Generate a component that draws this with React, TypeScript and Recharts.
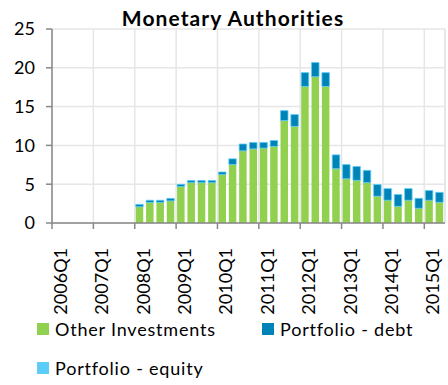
import React from 'react';
import {
  BarChart,
  Bar,
  XAxis,
  YAxis,
  CartesianGrid,
  Legend,
  ReferenceLine,
} from 'recharts';

// Quarters 2006Q1 .. 2015Q2
const quarters: string[] = [];
for (let y = 2006; y <= 2015; y++) {
  for (let q = 1; q <= 4; q++) {
    if (y === 2015 && q > 2) break;
    quarters.push(`${y}Q${q}`);
  }
}

const otherInvestments = [
  0, 0, 0, 0, 0, 0, 0, 0,
  2.1, 2.65, 2.65, 2.85, 4.7, 5.2, 5.2, 5.2,
  6.25, 7.55, 9.3, 9.55, 9.65, 9.87, 13.2, 12.45,
  17.6, 18.85, 17.6, 7.0, 5.7, 5.5, 5.2, 3.45,
  2.93, 2.15, 2.93, 1.9, 2.93, 2.67,
];

const portfolioDebt = [
  0, 0, 0, 0, 0, 0, 0, 0,
  0.3, 0.28, 0.28, 0.32, 0.28, 0.28, 0.28, 0.28,
  0.32, 0.72, 0.88, 0.83, 0.73, 0.76, 1.28, 1.52,
  1.78, 1.83, 1.78, 1.78, 1.83, 1.78, 1.58, 1.5,
  1.5, 1.52, 1.5, 1.28, 1.25, 1.28,
];

const portfolioEquity = [
  0, 0, 0, 0, 0, 0, 0, 0,
  0, 0, 0, 0, 0, 0, 0, 0,
  0, 0, 0, 0, 0, 0, 0, 0,
  0, 0, 0, 0, 0, 0, 0, 0,
  0, 0, 0, 0, 0, 0,
];

const yTicks = [0, 5, 10, 15, 20, 25];
// one labelled tick at the start of every year
const xTicks = [0, 4, 8, 12, 16, 20, 24, 28, 32, 36];

const GREEN = '#92d050';
const BLUE = '#0083b6';
const LIGHT_BLUE = '#5ccdf7';
const FONT = 'Lato, "Open Sans", sans-serif';

const data = quarters.map((q, i) => ({
  x: i + 0.5,
  quarter: q,
  other: otherInvestments[i],
  debt: portfolioDebt[i],
  equity: portfolioEquity[i],
}));

const legendItems = [
  { name: 'Other Investments', color: GREEN },
  { name: 'Portfolio - debt', color: BLUE },
  { name: 'Portfolio - equity', color: LIGHT_BLUE },
];

function QuarterTick(props: any) {
  const { x, y, payload } = props;
  const label = quarters[payload.value] ?? '';
  return (
    <text
      x={0}
      y={0}
      transform={`translate(${x + 15},${y + 17}) rotate(-90)`}
      textAnchor="end"
      fill="#000"
      fontSize={18}
      fontFamily={FONT}
    >
      {label}
    </text>
  );
}

function LegendBox() {
  const item = (it: { name: string; color: string }, left: number, top: number) => (
    <div
      key={it.name}
      style={{ position: 'absolute', left, top, display: 'flex', alignItems: 'center' }}
    >
      <span style={{ width: 12, height: 12, background: it.color, marginRight: 6 }} />
      <span
        style={{
          fontSize: 18,
          fontFamily: FONT,
          letterSpacing: 0.8,
          color: '#000',
          whiteSpace: 'nowrap',
        }}
      >
        {it.name}
      </span>
    </div>
  );
  return (
    <div style={{ position: 'relative', width: 448, height: 70 }}>
      {item(legendItems[0], 37, 3)}
      {item(legendItems[1], 262, 3)}
      {item(legendItems[2], 37, 42)}
    </div>
  );
}

export default function App() {
  return (
    <div style={{ position: 'absolute', left: 0, top: 0, width: 448, height: 385, background: '#fff' }}>
      <div
        style={{
          position: 'absolute',
          left: 0,
          top: 5,
          width: 466,
          textAlign: 'center',
          fontFamily: FONT,
          fontWeight: 'bold',
          fontSize: 21,
          letterSpacing: 1.1,
          color: '#000',
          zIndex: 1,
        }}
      >
        Monetary Authorities
      </div>
      <BarChart
        width={448}
        height={385}
        data={data}
        margin={{ top: 29, right: 3, bottom: 0, left: 0 }}
        barGap={0}
      >
        <CartesianGrid stroke="#e6e6e6" strokeWidth={1.5} />
        <XAxis
          type="number"
          dataKey="x"
          domain={[0, 38]}
          ticks={xTicks}
          interval={0}
          allowDataOverflow
          height={92}
          stroke="#888"
          strokeWidth={1.5}
          tickSize={6}
          tick={<QuarterTick />}
        />
        <YAxis
          domain={[0, 25]}
          ticks={yTicks}
          width={52}
          stroke="#888"
          strokeWidth={1.5}
          tickSize={6}
          tickMargin={11}
          tick={{ fill: '#000', fontSize: 18, fontFamily: FONT }}
        />
        <ReferenceLine x={38} stroke="#e6e6e6" strokeWidth={1.5} />
        <Legend verticalAlign="bottom" height={70} content={() => <LegendBox />} />
        <Bar dataKey="other" stackId="a" fill={GREEN} barSize={7.5} isAnimationActive={false} />
        <Bar
          dataKey="debt"
          stackId="a"
          fill={BLUE}
          stroke={LIGHT_BLUE}
          strokeWidth={0.8}
          barSize={7.5}
          isAnimationActive={false}
        />
        <Bar dataKey="equity" stackId="a" fill={LIGHT_BLUE} barSize={7.5} isAnimationActive={false} />
      </BarChart>
    </div>
  );
}
